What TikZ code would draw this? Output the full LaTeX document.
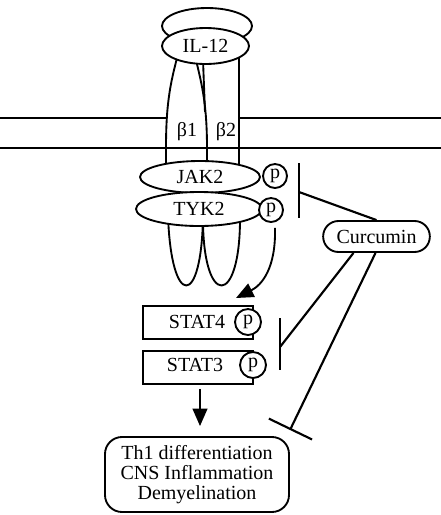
\documentclass[tikz,border=0pt]{standalone}
\usepackage{fontspec}
\setmainfont{Liberation Serif}
\usetikzlibrary{arrows.meta,calc,shapes.geometric}
\begin{document}
\begin{tikzpicture}[x=0.75pt,y=-0.75pt,
  every node/.style={font=\fontsize{15}{15}\selectfont},
  ln/.style={line width=1.4pt},
  ell/.style={ellipse,draw,line width=1.4pt,fill=white,inner sep=0pt},
  pc/.style={circle,draw,line width=1.4pt,fill=white,inner sep=0pt,minimum size=18pt},
  statbox/.style={rectangle,draw,line width=1.4pt,fill=white,minimum width=82.5pt,minimum height=24.75pt,inner sep=0pt},
  arr/.style={line width=1.4pt,-{Triangle[length=13pt,width=11pt]}},
  inh/.style={line width=1.6pt},
  barline/.style={line width=1.6pt},
  roundbox/.style={draw,line width=1.4pt,inner sep=0pt}
]
\useasboundingbox (0,0) rectangle (441,515);
% membrane
\draw[ln] (0,118) -- (167,118);
\draw[ln] (239,118) -- (441,118);
\draw[ln] (0,148) -- (441,148);
% back ellipse of IL-12
\node[ell,minimum width=67.5pt,minimum height=27pt] (ilback) at (207,26) {};
% receptor chains
\draw[ln] (177,58) .. controls (170,85) and (166,105) .. (166,148) -- (166,172);
\draw[ln] (196,60) .. controls (202,85) and (207,105) .. (207,148) -- (207,172);
\draw[ln] (203,60) -- (205,112);
\draw[ln] (239,58) -- (239,172);
\draw[ln] (168,215) .. controls (171,309) and (202,309) .. (203,215);
\draw[ln] (203,215) .. controls (202,309) and (241,309) .. (240,215);
% IL-12 front ellipse
\node[ell,minimum width=65.25pt,minimum height=27pt] (il) at (205.5,46) {IL-12};
% beta labels
\node (b1) at (187,132) {β1};
\node (b2) at (226,132) {β2};
% kinases
\node[ell,minimum width=90pt,minimum height=24pt] (jak) at (200,177) {JAK2};
\node[ell,minimum width=94.5pt,minimum height=25.5pt] (tyk) at (199,209) {TYK2};
\node[pc] (jp) at (275,176) {p};
\node[pc] (tp) at (271,210) {p};
% STATs
\node[statbox] (s4) at (198,322.5) {};
\node (s4t) at (197,322) {STAT4};
\node[pc,minimum size=19.5pt] (s4p) at (248,322) {p};
\node[statbox] (s3) at (198,367.5) {};
\node (s3t) at (195,365) {STAT3};
\node[pc,minimum size=19.5pt] (s3p) at (253,365) {p};
% Curcumin
\node[roundbox,rounded corners=11.5pt,minimum width=80pt,minimum height=23.25pt] (cur) at (376.5,236.5) {Curcumin};
% outcome
\node[roundbox,rounded corners=12.75pt,minimum width=138pt,minimum height=56.25pt,align=center] (out) at (197,474.5) {Th1 differentiation\\CNS Inflammation\\Demyelination};
% activation arrows
\coordinate (a1e) at (236,298);
\draw[arr] ($(tp.south)+(4,5)$) .. controls (276,268) and (262,285) .. (a1e);
\draw[arr] ($(s3.south)+(2,4)$) -- ($(out.north)+(3,-10)$);
% inhibition bars
\coordinate (bar1t) at (299,163);
\coordinate (bar1b) at (299,218);
\coordinate (bar1m) at (299,192);
\draw[barline] (bar1t) -- (bar1b);
\draw[inh] (cur.north) -- (bar1m);
\coordinate (bar2t) at (280,318);
\coordinate (bar2b) at (280,370);
\coordinate (bar2m) at (280,347);
\draw[barline] (bar2t) -- (bar2b);
\draw[inh] ($(cur.south)+(-23,0)$) -- (bar2m);
\coordinate (bar3m) at (290,430);
\draw[inh,-{Bar[width=36pt]}] ($(cur.south)+(-1,0)$) -- (bar3m);
\end{tikzpicture}
\end{document}
